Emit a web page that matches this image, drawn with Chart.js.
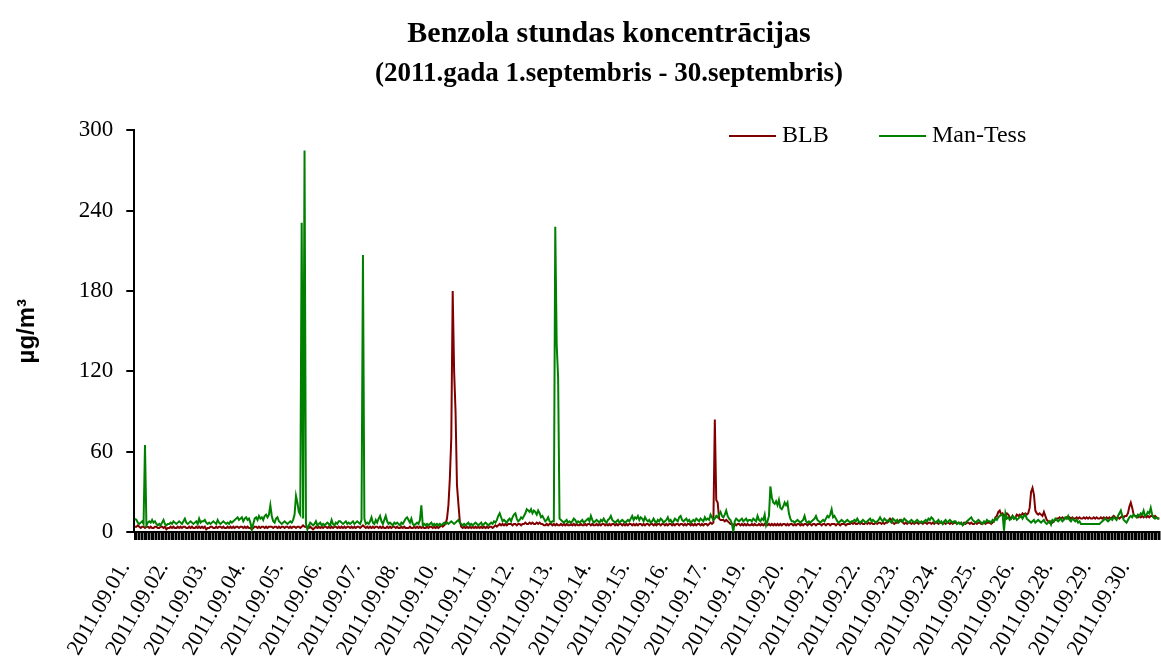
<!DOCTYPE html>
<html>
<head>
<meta charset="utf-8">
<title>Benzola stundas koncentrācijas</title>
<script src="https://cdn.jsdelivr.net/npm/chart.js@4.4.1/dist/chart.umd.min.js"></script>
<style>
  html, body { margin: 0; padding: 0; background: #fff; }
  #wrap { width: 1161px; height: 660px; }
</style>
</head>
<body>
<div id="wrap"><canvas id="benzolChart" width="1161" height="660"></canvas></div>
<script>
// datumi (katrai dienai 24 stundu vērtības)
const dayLabels = [
  '2011.09.01.', '2011.09.02.', '2011.09.03.', '2011.09.04.', '2011.09.05.',
  '2011.09.06.', '2011.09.07.', '2011.09.08.', '2011.09.09.', '2011.09.10.',
  '2011.09.11.', '2011.09.12.', '2011.09.13.', '2011.09.14.', '2011.09.15.',
  '2011.09.16.', '2011.09.17.', '2011.09.18.', '2011.09.19.', '2011.09.20.',
  '2011.09.21.', '2011.09.22.', '2011.09.23.', '2011.09.24.', '2011.09.25.',
  '2011.09.26.', '2011.09.27.', '2011.09.28.', '2011.09.29.', '2011.09.30.'
];
const labelStep = 27; // paraksts ik pēc 27 stundām

const yTicks = [0, 60, 120, 180, 240, 300];

// BLB, µg/m3, stundu vērtības
const blb = [
  4,4,5,4,3,4,4,3,4,4,3,4,3,3,4,4,3,3,4,4,3,4,2,3,
  3,4,3,4,3,3,4,3,4,3,4,4,3,3,4,3,4,3,3,4,3,4,3,4,
  3,4,2,3,3,4,4,3,3,4,3,4,4,3,4,3,3,4,3,4,3,4,3,4,
  4,3,4,4,3,4,3,4,3,3,2,3,4,4,3,4,3,4,4,3,4,3,4,4,
  4,3,4,4,3,4,3,4,4,3,4,4,3,4,3,4,4,3,4,4,3,4,5,4,
  4,3,3,4,3,2,3,4,3,4,3,4,3,4,4,3,4,3,4,3,4,4,3,4,
  3,4,3,4,3,4,4,3,4,3,4,3,4,4,3,4,5,4,3,4,3,4,3,4,
  3,4,4,3,4,3,4,3,3,4,3,4,3,4,4,3,4,3,3,4,3,4,3,3,
  3,4,3,3,4,3,4,3,4,3,4,3,3,4,3,4,4,3,4,3,4,3,4,5,
  4,5,6,10,20,40,70,180,120,90,35,21,8,4,3,4,3,4,3,4,3,4,3,4,
  3,4,3,4,3,4,3,4,3,4,4,3,4,5,4,5,6,5,6,5,6,5,6,6,
  6,5,6,6,5,6,6,5,6,6,7,6,6,7,6,7,6,6,7,6,7,6,6,5,
  5,6,5,6,6,5,6,5,6,5,5,6,5,6,5,6,5,5,6,5,6,5,6,5,
  5,6,5,5,6,5,6,6,5,6,5,5,6,5,6,5,6,6,5,6,5,6,5,6,
  6,5,6,5,6,6,5,6,5,6,5,6,6,5,6,5,6,5,6,6,5,6,5,6,
  6,5,6,6,5,6,5,6,6,5,6,6,5,6,5,6,6,5,6,5,6,6,5,6,
  6,5,6,5,6,6,5,6,5,6,5,6,6,5,6,5,6,6,5,6,7,6,7,84,
  24,22,10,9,9,9,8,9,8,7,6,6,5,6,5,6,6,5,6,5,6,5,6,5,
  5,6,5,6,5,5,6,5,6,5,6,5,5,6,5,6,5,6,5,6,5,6,5,6,
  6,5,6,5,6,6,5,6,5,6,6,5,6,5,6,6,5,6,6,5,6,6,5,6,
  6,6,5,6,6,5,6,6,5,6,6,6,5,6,6,5,6,6,6,5,6,6,6,7,
  6,7,6,6,7,6,7,6,6,7,6,7,6,7,6,6,7,6,7,7,6,7,6,7,
  7,8,10,9,7,6,7,7,8,9,8,7,6,7,6,7,7,6,7,6,7,7,6,7,
  7,6,7,7,6,7,7,6,7,6,7,7,6,7,7,6,7,6,7,7,6,7,6,7,
  7,6,7,7,6,6,7,6,7,7,6,7,6,6,7,6,7,7,6,7,7,6,7,7,
  7,6,7,8,11,12,15,16,13,14,12,13,14,13,11,10,12,10,11,13,12,13,12,14,
  13,14,13,14,18,30,33,28,16,14,13,14,13,12,15,12,9,8,7,8,7,8,9,10,
  10,11,10,11,10,10,11,10,11,10,11,10,10,11,10,11,10,10,11,10,11,10,11,10,
  10,11,10,11,10,10,11,10,11,10,11,10,11,10,11,12,11,10,11,10,11,12,11,12,
  12,14,19,22,18,13,12,12,11,12,11,12,11,12,11,12,11,12,12,11,12,11,10,10
];

// Man-Tess, µg/m3, stundu vērtības
const manTess = [
  10,9,7,6,7,8,6,65,5,7,8,7,9,7,8,6,5,6,5,7,9,6,5,6,
  6,7,6,8,7,6,7,8,7,6,8,10,7,6,7,8,7,6,7,8,6,10,7,8,
  8,9,7,6,7,6,7,8,7,6,9,7,6,7,8,7,6,7,6,8,7,8,9,10,
  11,9,10,11,8,10,11,9,10,7,2,6,10,11,9,12,10,11,9,12,13,11,13,20,
  12,8,7,10,11,8,7,6,7,8,7,6,7,8,7,9,13,27,22,15,13,231,10,285,
  6,2,5,7,6,5,6,8,5,6,7,5,6,5,6,7,6,5,9,6,5,7,6,8,
  8,7,6,7,8,6,7,6,7,8,6,7,8,7,6,9,207,10,6,7,6,8,11,7,
  6,9,7,10,12,8,6,9,12,8,6,7,6,5,7,6,7,6,5,7,6,8,10,11,
  9,7,10,6,5,6,7,6,9,20,5,6,5,6,5,6,7,5,6,5,6,5,6,5,
  6,7,6,7,6,7,8,7,6,7,8,9,7,6,5,6,5,6,7,5,6,5,6,7,
  6,5,6,7,5,6,7,6,5,6,7,6,8,7,9,12,14,11,8,9,8,7,9,10,
  8,11,13,14,10,8,9,11,10,12,14,17,16,15,17,14,16,15,13,16,14,11,12,10,
  8,9,11,8,7,8,8,228,140,115,10,9,8,7,8,9,7,8,7,8,10,9,7,8,
  7,8,9,7,8,9,10,8,12,9,7,8,9,8,7,9,8,10,8,7,9,10,12,9,
  8,7,8,9,7,8,9,8,7,8,9,8,10,12,9,11,10,12,9,11,10,8,11,9,
  8,9,7,8,10,8,7,9,8,10,9,7,8,9,11,8,9,7,8,10,9,8,11,12,
  9,8,9,10,8,9,7,8,9,8,10,9,8,10,9,8,11,9,10,9,13,11,9,10,
  12,11,13,15,12,11,13,16,12,10,9,6,0.5,8,10,9,8,9,10,8,9,10,8,9,
  9,8,10,9,8,12,9,8,10,9,13,5,8,12,34,26,22,21,23,20,24,18,17,19,
  22,20,22,14,10,8,8,7,8,9,8,7,8,9,12,8,7,8,7,8,9,10,12,9,
  8,7,8,9,8,10,12,11,13,17,11,12,10,8,7,8,9,8,7,8,9,8,7,8,
  8,9,8,10,8,7,8,9,8,7,8,9,10,8,9,8,7,8,9,11,9,8,10,9,
  8,9,8,7,10,9,8,9,7,8,9,8,10,9,8,7,8,9,8,7,8,9,8,7,
  8,7,8,9,8,10,9,11,10,8,7,8,9,7,8,6,8,9,7,8,9,8,7,8,
  8,6,7,6,7,5,6,7,8,9,10,11,9,8,7,8,9,8,7,6,8,7,9,8,
  8,7,9,8,10,9,11,12,13,13,1,14,10,11,9,10,12,10,11,9,10,11,12,10,
  12,13,10,9,8,7,8,9,7,8,9,8,7,8,9,7,6,7,8,5.5,9,8,10,9,
  8,9,10,8,9,11,10,12,9,8,10,9,8,9,7,8,6,6,6,6,6,6,6,6,
  6,6,6,6,6,6,7,8,9,10,9,8,9,10,9,11,10,9,12,14,16,12,9,8,
  7,9,11,12,11,13,12,11,13,12,14,13,16,12,13,15,14,18,13,11,10,11,10,10
];

// stundu kategorijas - katram datumam 24 stundas
const hourLabels = [];
dayLabels.forEach(d => {
  for (let h = 0; h < 24; h++) hourLabels.push(d);
});

const serif = "'Liberation Serif', 'Times New Roman', serif";

// leģenda grafika iekšpusē (augšā pa labi)
const legendPos = [729, 879];
const insideLegend = {
  id: 'insideLegend',
  afterDraw(chart) {
    const ctx = chart.ctx;
    const y = 136;
    ctx.save();
    ctx.font = "24px " + serif;
    ctx.textBaseline = 'middle';
    ctx.fillStyle = '#000';
    chart.data.datasets.forEach((ds, i) => {
      const x = legendPos[i];
      ctx.strokeStyle = ds.borderColor;
      ctx.lineWidth = 2;
      ctx.beginPath();
      ctx.moveTo(x, y);
      ctx.lineTo(x + 47, y);
      ctx.stroke();
      ctx.fillText(ds.label, x + 53, y);
    });
    ctx.restore();
  }
};

// virsraksts un apakšvirsraksts centrēti kā oriģinālā
const titleCenter = {
  id: 'titleCenter',
  afterLayout(chart) {
    chart.boxes.forEach(b => {
      if (b.axis || !b.options || b.options.text === undefined) return;
      const w = b.right - b.left;
      b.left = 609 - w / 2;
      b.right = 609 + w / 2;
    });
  }
};

const ctx = document.getElementById('benzolChart').getContext('2d');
const myChart = new Chart(ctx, {
  type: 'line',
  data: {
    labels: hourLabels,
    datasets: [
      {
        label: 'BLB',
        data: blb,
        borderColor: '#800000',
        borderWidth: 2,
        pointRadius: 0,
        tension: 0,
        order: 1
      },
      {
        label: 'Man-Tess',
        data: manTess,
        borderColor: '#008000',
        borderWidth: 2,
        pointRadius: 0,
        tension: 0,
        order: 0
      }
    ]
  },
  options: {
    responsive: false,
    animation: false,
    devicePixelRatio: 1,
    layout: { padding: { left: 8, right: 1, top: 16, bottom: -17 } },
    plugins: {
      legend: { display: false },
      tooltip: { enabled: false },
      title: {
        display: true,
        text: 'Benzola stundas koncentrācijas',
        color: '#000',
        font: { family: serif, size: 30, weight: 'bold', lineHeight: 1.2 },
        padding: { top: 0, bottom: 0 }
      },
      subtitle: {
        display: true,
        text: '(2011.gada 1.septembris - 30.septembris)',
        color: '#000',
        font: { family: serif, size: 27, weight: 'bold', lineHeight: 1.2 },
        padding: { top: 6, bottom: 40 }
      }
    },
    scales: {
      x: {
        offset: true,
        afterFit: scale => { scale.paddingRight = 0; },
        grid: {
          offset: true,
          drawOnChartArea: false,
          drawTicks: true,
          tickLength: 8,
          color: '#000',
          lineWidth: 1.5
        },
        border: { display: true, color: '#000', width: 2 },
        ticks: {
          autoSkip: false,
          minRotation: 60,
          maxRotation: 60,
          padding: 17,
          labelOffset: -10,
          color: '#000',
          font: { family: serif, size: 22 },
          callback: function (value, index) {
            return index % labelStep === 0 ? this.getLabelForValue(value) : '';
          }
        }
      },
      y: {
        min: 0,
        max: 300,
        afterBuildTicks: axis => { axis.ticks = yTicks.map(v => ({ value: v })); },
        grid: {
          drawOnChartArea: false,
          drawTicks: true,
          tickLength: 8,
          color: '#000',
          lineWidth: 2
        },
        border: { display: true, color: '#000', width: 2 },
        ticks: {
          padding: 13,
          color: '#000',
          font: { family: serif, size: 23 }
        },
        title: {
          display: true,
          text: 'µg/m³',
          color: '#000',
          font: { family: "'Liberation Sans', Arial, sans-serif", size: 24, weight: 'bold' },
          padding: { top: 5, bottom: 24 }
        }
      }
    }
  },
  plugins: [insideLegend, titleCenter]
});
</script>
</body>
</html>
